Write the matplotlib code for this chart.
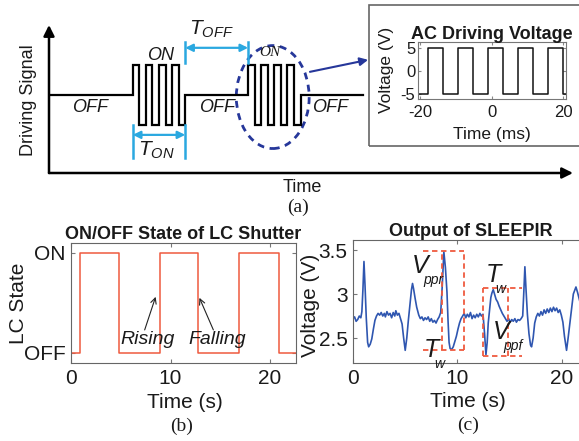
import matplotlib
matplotlib.use('Agg')
import matplotlib.pyplot as plt
from matplotlib.patches import Ellipse, Rectangle

plt.rcParams['font.family'] = ['Liberation Sans', 'DejaVu Sans']
plt.rcParams['mathtext.fontset'] = 'custom'
plt.rcParams['mathtext.it'] = 'Liberation Sans:italic'
plt.rcParams['mathtext.rm'] = 'Liberation Sans'
plt.rcParams['axes.unicode_minus'] = False

# (a) schematic driving signal (arbitrary time units)
burst_starts = [1.6, 3.8]
burst_len = 1.0
burst_levels = [1, -1, 1, -1, 1, -1, 1, -1]
signal_end = 6.0

# inset: AC driving voltage
ac_rise = [-17.8, -9.4, -1.0, 7.4, 15.8]
ac_fall = [-13.6, -5.2, 3.2, 11.6, 20.0]
ac_amp = 5
ac_span = [-20.6, 20.8]

# (b) LC shutter state
lc_t = [0, 0.9, 4.8, 8.9, 12.8, 16.9, 20.9, 22.6]
lc_state = [0, 1, 0, 1, 0, 1, 0, 0]

# (c) SLEEPIR output
sig_t = [0, 0.15, 0.3, 0.45, 0.6, 0.75, 0.85, 0.95, 1.05, 1.15, 1.27, 1.4, 1.5,
         1.65, 1.8, 1.95, 2.1, 2.25, 2.4, 2.55, 2.7, 2.85, 3.0, 3.1, 3.25, 3.4,
         3.55, 3.7, 3.85, 4.0, 4.1, 4.25, 4.4, 4.55, 4.7, 4.85, 5.0, 5.15, 5.3,
         5.45, 5.6, 5.7, 5.8, 5.95, 6.1, 6.3, 6.45, 6.6, 6.75, 6.9, 7.05, 7.2,
         7.35, 7.5, 7.65, 7.8, 7.95, 8.1, 8.25, 8.4, 8.55, 8.7, 8.85, 9.0, 9.1,
         9.2, 9.3, 9.45, 9.6, 9.75, 9.9, 10.05, 10.2, 10.35, 10.5, 10.65, 10.8,
         10.95, 11.1, 11.25, 11.4, 11.55, 11.7, 11.85, 12.0, 12.15, 12.3, 12.45,
         12.6, 12.73, 12.85, 12.95, 13.1, 13.2, 13.3, 13.43, 13.55, 13.7, 13.85,
         14.0, 14.15, 14.3, 14.45, 14.6, 14.75, 14.9, 15.05, 15.2, 15.35, 15.5,
         15.65, 15.8, 15.95, 16.1, 16.25, 16.35, 16.46, 16.57, 16.7, 16.85, 17.0,
         17.1, 17.25, 17.4, 17.55, 17.7, 17.85, 18.0, 18.15, 18.3, 18.45, 18.6,
         18.75, 18.9, 19.05, 19.2, 19.35, 19.5, 19.65, 19.8, 19.95, 20.1, 20.25,
         20.45, 20.6, 20.8, 20.95, 21.1, 21.35, 21.5, 21.65, 21.8, 22.0, 22.2,
         22.4, 22.6]
sig_v = [2.72, 2.74, 2.69, 2.71, 2.75, 2.73, 2.80, 3.05, 3.37, 3.10, 2.73, 2.45, 2.40,
         2.43, 2.49, 2.60, 2.70, 2.75, 2.78, 2.76, 2.79, 2.75, 2.78, 2.74, 2.80, 2.76,
         2.78, 2.73, 2.79, 2.75, 2.81, 2.76, 2.78, 2.72, 2.66, 2.50, 2.36, 2.50, 2.70,
         2.88, 3.05, 3.12, 3.06, 2.95, 2.85, 2.76, 2.72, 2.74, 2.70, 2.73, 2.71, 2.74,
         2.69, 2.72, 2.68, 2.70, 2.67, 2.71, 2.74, 2.79, 3.10, 3.48, 3.30, 3.02, 2.70,
         2.45, 2.38, 2.37, 2.40, 2.46, 2.52, 2.60, 2.67, 2.72, 2.75, 2.78, 2.73,
         2.77, 2.74, 2.79, 2.72, 2.76, 2.73, 2.77, 2.74, 2.78, 2.75, 2.77,
         2.55, 2.31, 2.45, 2.67, 2.85, 2.96, 3.01, 3.05, 3.00, 2.94, 2.91,
         2.86, 2.82, 2.78, 2.75, 2.72, 2.69, 2.72, 2.68, 2.71, 2.69, 2.72,
         2.68, 2.71, 2.70, 2.72, 2.75, 3.00, 3.31, 3.05, 2.77, 2.55, 2.42,
         2.40, 2.50, 2.67, 2.74, 2.78, 2.75, 2.80, 2.76, 2.82, 2.78, 2.83,
         2.79, 2.84, 2.80, 2.85, 2.81, 2.84, 2.79, 2.82, 2.76, 2.68, 2.52,
         2.36, 2.50, 2.70, 2.86, 3.00, 3.08, 3.02, 2.95, 2.88, 2.82, 2.78,
         2.76, 2.74]

# dashed measurement boxes in (c)
vppr_t = [6.7, 10.65]
vppr_v = [2.36, 3.49]
tw1_t = [8.49, 10.65]
vppf_t = [12.47, 16.14]
vppf_v = [2.30, 3.07]
tw2_t = [12.47, 14.86]

W, H = 579, 441
fig = plt.figure(figsize=(W / 100, H / 100), dpi=100)


def px_axes(x0, y0, x1, y1):
    # axes from pixel box (top-left origin)
    return fig.add_axes([x0 / W, 1 - y1 / H, (x1 - x0) / W, (y1 - y0) / H])


cyan = '#2aa8e0'
navy = '#26379a'
red = '#ef5a3f'
blue = '#2f56b0'
txt = '#1a1a1a'

# ---------------- (a) schematic ----------------
ax = px_axes(49, 25, 573, 173)
ax.set_xlim(0, 10)
ax.set_ylim(-2.6, 2.33)
ax.axis('off')

wx, wy = [0], [0]
half = burst_len / len(burst_levels)
for s in burst_starts:
    wx.append(s)
    wy.append(0)
    for i, lv in enumerate(burst_levels):
        wx += [s + i * half, s + (i + 1) * half]
        wy += [lv, lv]
    wx.append(s + burst_len)
    wy.append(0)
wx.append(signal_end)
wy.append(0)
ax.plot(wx, wy, color='black', lw=1.6, solid_joinstyle='miter')

arrow_kw = dict(arrowstyle='-|>', lw=1.8, color='black', mutation_scale=16,
                shrinkA=0, shrinkB=0)
ax.annotate('', xy=(0, 2.33), xytext=(0, -2.6), arrowprops=arrow_kw,
            annotation_clip=False)
ax.annotate('', xy=(10, -2.6), xytext=(0, -2.6), arrowprops=arrow_kw,
            annotation_clip=False)

# T_ON and T_OFF markers
b1_end = burst_starts[0] + burst_len
for xv in [burst_starts[0], b1_end]:
    ax.plot([xv, xv], [-1.0, -2.1], color=cyan, lw=1.8)
ax.annotate('', xy=(b1_end, -1.33), xytext=(burst_starts[0], -1.33),
            arrowprops=dict(arrowstyle='<|-|>', lw=1.6, color=cyan,
                            mutation_scale=11, shrinkA=0, shrinkB=0))
ax.text(2.05, -1.85, r'$T_{ON}$', fontsize=15, ha='center', va='center', color=txt)
for xv in [b1_end, burst_starts[1]]:
    ax.plot([xv, xv], [1.07, 1.77], color=cyan, lw=1.8)
ax.annotate('', xy=(burst_starts[1], 1.57), xytext=(b1_end, 1.57),
            arrowprops=dict(arrowstyle='<|-|>', lw=1.6, color=cyan,
                            mutation_scale=11, shrinkA=0, shrinkB=0))
ax.text(3.1, 2.2, r'$T_{OFF}$', fontsize=15, ha='center', va='center', color=txt)

for xo in [0.78, 3.2, 5.36]:
    ax.text(xo, -0.42, 'OFF', fontsize=13, style='italic', ha='center',
            va='center', color=txt)
ax.text(2.12, 1.33, 'ON', fontsize=13, style='italic', ha='center',
        va='center', color=txt)
ax.text(4.22, 1.42, 'ON', fontsize=11, style='italic', ha='center',
        va='center', color=txt, family='Liberation Serif')

ax.add_patch(Ellipse((4.27, -0.07), 1.39, 3.43, fill=False, ls=(0, (2.5, 2)),
                     lw=2, ec=navy, clip_on=False))
ax.annotate('', xy=(6.09, 1.17), xytext=(4.98, 0.77),
            arrowprops=dict(arrowstyle='-|>', lw=1.5, color=navy,
                            mutation_scale=12, shrinkA=0, shrinkB=0),
            annotation_clip=False)

ax.text(-0.4, -0.17, 'Driving Signal', rotation=90, fontsize=13,
        ha='center', va='center', color=txt)
ax.text(4.83, -3.07, 'Time', fontsize=13, ha='center', va='center', color=txt)

# inset box
fig.patches.append(Rectangle((369 / W, 1 - 146 / H), 230 / W, 141 / H,
                             transform=fig.transFigure, fill=False,
                             ec='#666666', lw=1.2))
axi = px_axes(418, 42, 566, 99)
ac_t = [ac_span[0]]
ac_v = [-ac_amp]
for r, f in zip(ac_rise, ac_fall):
    ac_t += [r, r, f, f]
    ac_v += [-ac_amp, ac_amp, ac_amp, -ac_amp]
ac_t.append(ac_span[1])
ac_v.append(-ac_amp)
axi.plot(ac_t, ac_v, color='#111111', lw=1.1)
axi.set_xlim(ac_span)
axi.set_ylim(-6.1, 6.3)
axi.set_xticks([-20, 0, 20])
axi.set_yticks([-5, 0, 5])
axi.tick_params(direction='in', length=2, labelsize=12, top=True, right=True,
                pad=2, colors='#888888', labelcolor=txt)
axi.tick_params(axis='x', pad=4)
for sp in axi.spines.values():
    sp.set_color('#777777')
    sp.set_linewidth(0.8)
axi.set_title('AC Driving Voltage', fontsize=13, fontweight='bold', pad=2,
              color=txt)
axi.set_xlabel('Time (ms)', fontsize=12.5, color=txt, va='center')
axi.set_ylabel('Voltage (V)', fontsize=12.5, color=txt, va='center')
axi.xaxis.set_label_coords(0.5, -0.63)
axi.yaxis.set_label_coords(-0.21, 0.51)


def style_axes(a):
    a.tick_params(direction='in', length=3, labelsize=15, top=True,
                  right=True, pad=4, colors='#777777', labelcolor=txt)
    for sp in a.spines.values():
        sp.set_color('#666666')
        sp.set_linewidth(0.8)


# ---------------- (b) LC shutter ----------------
axb = px_axes(71, 243, 296, 363)
axb.plot(lc_t, lc_state, drawstyle='steps-post', color=red, lw=1.1)
axb.set_xlim(0, 22.6)
axb.set_ylim(-0.1, 1.097)
axb.set_xticks([0, 10, 20])
axb.set_yticks([0, 1])
axb.set_yticklabels(['OFF', 'ON'])
style_axes(axb)
axb.set_title('ON/OFF State of LC Shutter', fontsize=13, fontweight='bold',
              pad=3, color=txt)
axb.set_xlabel('Time (s)', fontsize=15, color=txt, va='center')
axb.set_ylabel('LC State', fontsize=15, color=txt, va='center')
axb.xaxis.set_label_coords(0.507, -0.325)
axb.yaxis.set_label_coords(-0.235, 0.5)
akw = dict(arrowstyle='->', lw=0.8, color='#222222', shrinkA=0, shrinkB=0)
axb.annotate('', xy=(8.5, 0.56), xytext=(7.4, 0.23), arrowprops=akw)
axb.annotate('', xy=(12.9, 0.55), xytext=(14.3, 0.23), arrowprops=akw)
axb.text(7.7, 0.13, 'Rising', fontsize=14, style='italic', ha='center',
         va='center', color=txt)
axb.text(14.7, 0.13, 'Falling', fontsize=14, style='italic', ha='center',
         va='center', color=txt)

# ---------------- (c) SLEEPIR output ----------------
axc = px_axes(353, 240, 589, 363)
axc.plot(sig_t, sig_v, color=blue, lw=1.2)
dkw = dict(color=red, lw=1.3, ls=(0, (3, 2)))
for vv in vppr_v:
    axc.plot(vppr_t, [vv, vv], **dkw)
for tt in tw1_t:
    axc.plot([tt, tt], vppr_v, **dkw)
for vv in vppf_v:
    axc.plot(vppf_t, [vv, vv], **dkw)
for tt in tw2_t:
    axc.plot([tt, tt], vppf_v, **dkw)
axc.set_xlim(0, 22.6)
axc.set_ylim(2.216, 3.614)
axc.set_xticks([0, 10, 20])
axc.set_yticks([2.5, 3, 3.5])
axc.set_yticklabels(['2.5', '3', '3.5'])
style_axes(axc)
axc.set_title('Output of SLEEPIR', fontsize=13, fontweight='bold', pad=3,
              color=txt)
axc.set_xlabel('Time (s)', fontsize=15, color=txt, va='center')
axc.set_ylabel('Voltage (V)', fontsize=15, color=txt, va='center')
axc.xaxis.set_label_coords(0.487, -0.317)
axc.yaxis.set_label_coords(-0.182, 0.47)

# symbol labels: big italic letter with small italic subscript
sym_labels = [('V', 'ppr', 6.45, 3.32), ('T', 'w', 7.55, 2.36),
              ('T', 'w', 13.4, 3.22), ('V', 'ppf', 14.15, 2.57)]
for big, sub, tx, ty in sym_labels:
    axc.text(tx, ty, big, fontsize=18, style='italic', ha='center',
             va='center', color=txt)
    axc.annotate(sub, xy=(tx, ty), xytext=(2, -10), textcoords='offset points',
                 fontsize=10, style='italic', ha='left', va='center', color=txt)

# panel letters
for lab, xp, yp in [('(a)', 298, 207), ('(b)', 182, 426), ('(c)', 468, 425)]:
    fig.text(xp / W, 1 - yp / H, lab, fontsize=14, family='Liberation Serif',
             ha='center', va='center', color=txt)

fig.savefig('out.png', dpi=100, facecolor='white')
